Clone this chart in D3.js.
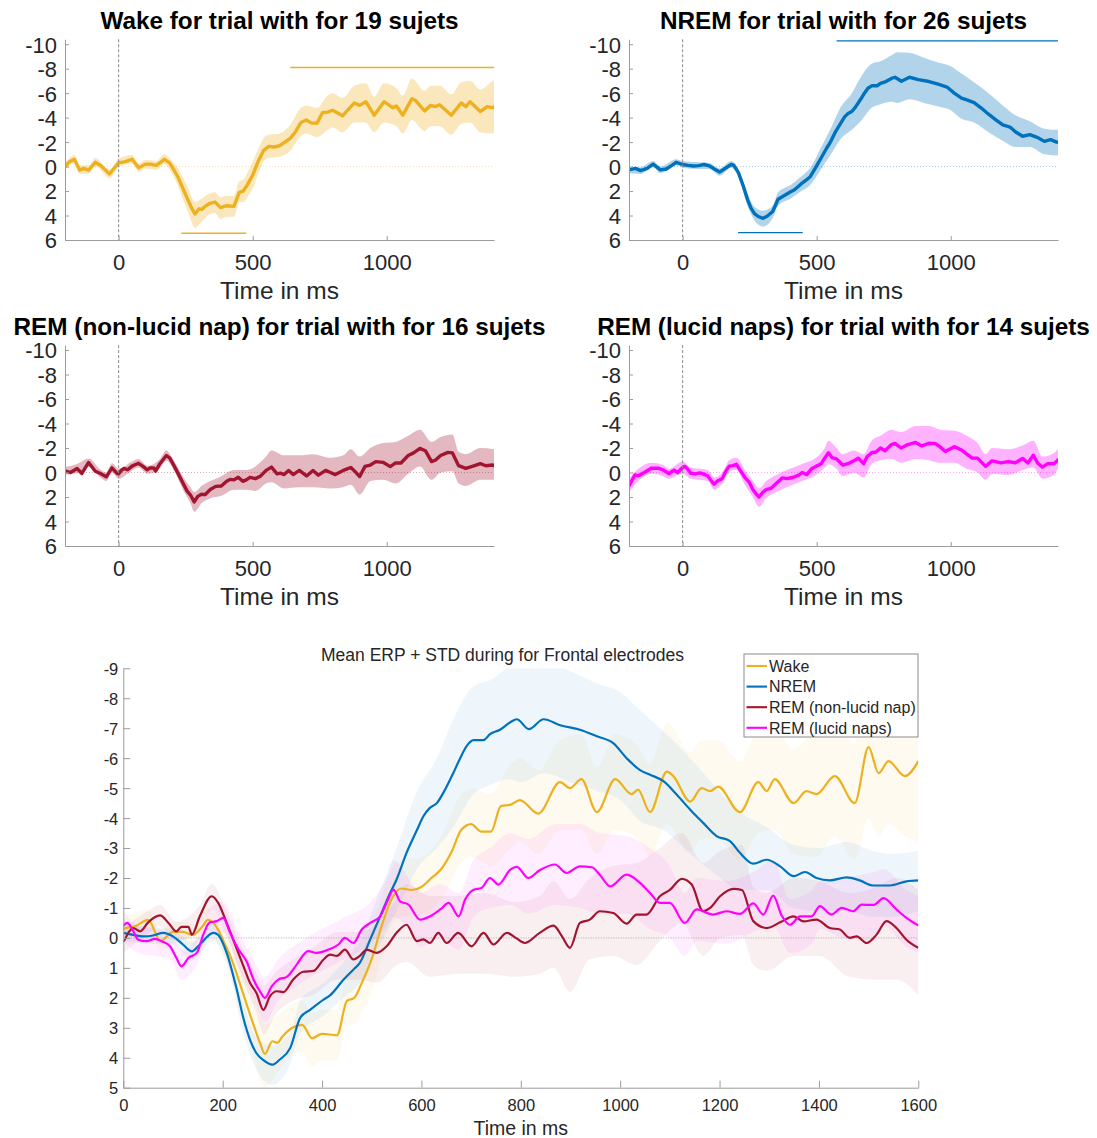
<!DOCTYPE html>
<html>
<head>
<meta charset="utf-8">
<script src="https://cdn.jsdelivr.net/npm/d3@7"></script>
<style>
  body { margin: 0; background: #fff; }
  svg { display: block; font-family: "Liberation Sans", Arial, Helvetica, sans-serif; }
</style>
</head>
<body>
<svg id="fig" width="1097" height="1138"></svg>
<script>
// ---- Condition names, titles and colours ----
const conditions = ["Wake", "NREM", "REM (non-lucid nap)", "REM (lucid naps)"];
const subjects = [19, 26, 16, 14];
const colors = ["#EDB120", "#0072BD", "#A2142F", "#FF00FF"];
const panelTitles = conditions.map((c, i) => `${c} for trial with for ${subjects[i]} sujets`);
const summaryTitle = "Mean ERP + STD during for Frontal electrodes";
const xLabel = "Time in ms";

// ---- Axis ticks ----
const smallXTicks = [0, 500, 1000];
const smallYTicks = [-10, -8, -6, -4, -2, 0, 2, 4, 6];
const bigXTicks = [0, 200, 400, 600, 800, 1000, 1200, 1400, 1600];
const bigYTicks = [-9, -8, -7, -6, -5, -4, -3, -2, -1, 0, 1, 2, 3, 4, 5];

// ---- Mean ERP (µV) : [time ms, amplitude] ----
const wakeMean = [[-200,0.0],[-183,-0.4],[-165,-0.6],[-145,0.3],[-130,0.15],[-112,0.3],[-87,-0.35],[-68,-0.1],[-34,0.6],[-19,0.2],[0,-0.3],[25,-0.4],[50,-0.6],[75,0.1],[100,-0.2],[120,-0.2],[140,-0.1],[160,-0.4],[170,-0.6],[190,-0.3],[200,0.05],[220,0.8],[240,1.8],[260,2.8],[275,3.5],[285,3.87],[300,3.45],[310,3.5],[320,3.3],[340,3.0],[360,2.9],[380,3.35],[400,3.2],[430,3.25],[450,2.1],[465,2.0],[480,1.5],[500,0.7],[520,-0.4],[540,-1.3],[560,-1.65],[580,-1.6],[600,-1.7],[620,-2.0],[640,-2.3],[660,-2.85],[680,-3.6],[700,-3.8],[720,-3.55],[740,-3.55],[760,-4.4],[780,-4.45],[798,-4.6],[835,-4.15],[879,-5.2],[899,-5.0],[922,-5.3],[953,-4.2],[990,-5.3],[1023,-4.8],[1036,-4.95],[1060,-4.2],[1094,-5.55],[1107,-5.4],[1141,-4.55],[1164,-5.0],[1181,-4.9],[1197,-5.05],[1241,-4.2],[1278,-5.2],[1295,-4.9],[1311,-5.3],[1349,-4.5],[1375,-4.9],[1395,-4.8],[1432,-5.4],[1472,-4.5],[1500,-6.37],[1520,-5.5],[1540,-5.9],[1573,-5.4],[1600,-5.9]];

const nremMean = [[-200,0.27],[-176,0.15],[-157,0.33],[-132,0.15],[-110,-0.2],[-83,0.27],[-61,0.2],[-40,-0.1],[-24,-0.35],[0,-0.17],[20,-0.1],[40,-0.05],[60,-0.08],[80,-0.17],[100,-0.05],[120,0.22],[138,0.45],[154,0.22],[181,-0.17],[191,-0.1],[208,0.5],[228,1.7],[242,2.7],[255,3.4],[268,3.85],[282,4.08],[300,4.23],[315,4.06],[336,3.67],[356,2.67],[376,2.4],[403,2.06],[416,1.92],[443,1.4],[463,1.06],[476,0.83],[497,0.05],[517,-0.72],[537,-1.5],[550,-1.95],[570,-2.84],[591,-3.6],[604,-4.06],[617,-4.34],[631,-4.5],[644,-4.84],[664,-5.5],[678,-6.0],[691,-6.4],[705,-6.6],[725,-6.6],[738,-6.8],[758,-6.95],[779,-7.2],[792,-7.3],[816,-6.97],[846,-7.3],[879,-7.1],[919,-6.95],[953,-6.73],[986,-6.5],[1013,-6.0],[1040,-5.6],[1060,-5.45],[1087,-5.23],[1114,-4.78],[1141,-4.28],[1167,-3.84],[1194,-3.4],[1221,-3.23],[1241,-2.84],[1268,-2.48],[1295,-2.61],[1322,-2.39],[1349,-2.06],[1372,-2.2],[1395,-2.0],[1422,-1.92],[1456,-2.02],[1482,-1.92],[1509,-1.75],[1543,-1.75],[1576,-1.89],[1600,-1.92]];

const remMean = [[-200,-0.14],[-180,0.0],[-155,-0.33],[-137,0.08],[-112,-0.82],[-87,-0.1],[-68,0.08],[-46,0.35],[-25,-0.38],[-6,0.08],[0,0.11],[10,-0.17],[20,-0.33],[34,-0.22],[50,-0.52],[74,-0.75],[91,-0.5],[107,-0.22],[117,-0.37],[131,-0.37],[138,-0.11],[154,-0.72],[178,-1.39],[191,-1.17],[208,-0.5],[221,0.05],[242,0.95],[255,1.5],[268,1.84],[282,2.4],[295,1.95],[309,1.78],[322,1.81],[342,1.39],[362,1.13],[383,1.1],[403,0.72],[416,0.56],[430,0.6],[446,0.39],[463,0.72],[476,0.6],[490,0.39],[510,0.5],[530,0.28],[550,-0.17],[570,-0.44],[591,0.11],[604,0.05],[617,0.17],[634,-0.17],[651,0.17],[674,-0.17],[701,0.28],[725,-0.17],[745,0.22],[772,-0.17],[790,0.0],[808,0.17],[838,-0.17],[866,-0.41],[883,-0.05],[899,0.33],[919,-0.5],[939,-0.61],[959,-0.89],[986,-0.83],[1013,-0.48],[1033,-0.78],[1053,-0.78],[1080,-1.39],[1100,-1.6],[1124,-1.97],[1144,-1.78],[1167,-0.89],[1181,-1.0],[1201,-1.39],[1228,-1.64],[1245,-1.6],[1268,-0.56],[1295,-0.33],[1322,-0.52],[1349,-0.72],[1369,-0.55],[1395,-0.61],[1422,-0.33],[1442,-0.28],[1462,0.0],[1476,-0.05],[1496,0.17],[1516,-0.11],[1536,-0.56],[1556,-0.33],[1576,0.06],[1600,0.33]];

const lucidMean = [[-200,1.1],[-178,0.2],[-165,0.27],[-143,0.0],[-117,-0.35],[-91,-0.35],[-71,-0.2],[-52,0.1],[-32,-0.2],[-19,0.0],[0,-0.41],[8,-0.5],[17,-0.33],[30,0.06],[47,0.11],[64,0.03],[77,0.11],[94,0.28],[107,0.67],[117,0.95],[131,0.67],[148,0.5],[161,-0.11],[174,-0.52],[188,-0.56],[201,-0.67],[215,-0.17],[232,0.39],[248,0.78],[262,1.39],[275,1.78],[285,2.0],[299,1.61],[312,1.39],[329,1.3],[349,0.89],[372,0.44],[389,0.5],[413,0.39],[433,0.22],[446,0.0],[463,0.17],[480,-0.28],[497,-0.5],[517,-0.72],[530,-1.17],[544,-1.61],[557,-1.22],[574,-1.11],[597,-0.61],[617,-0.72],[638,-0.95],[655,-1.17],[675,-0.72],[688,-1.28],[705,-1.61],[721,-1.67],[738,-2.0],[755,-1.78],[779,-2.28],[792,-2.37],[815,-2.0],[838,-2.26],[869,-2.45],[892,-2.17],[919,-2.39],[943,-2.36],[959,-2.11],[980,-1.72],[1013,-2.11],[1040,-1.84],[1060,-1.5],[1080,-1.17],[1100,-1.17],[1130,-0.5],[1154,-0.95],[1187,-0.78],[1214,-0.89],[1241,-0.8],[1268,-1.15],[1288,-0.78],[1308,-1.41],[1325,-0.75],[1342,-0.44],[1362,-0.72],[1385,-0.72],[1402,-1.06],[1425,-0.78],[1446,-1.0],[1469,-0.89],[1486,-1.11],[1510,-1.1],[1530,-1.33],[1556,-0.95],[1576,-0.67],[1600,-0.42]];

// ---- Dispersion envelopes : [time ms, upper (negative side), lower] ----
const wakeBand = [[-200,-0.3,0.3],[-165,-0.95,-0.25],[-145,-0.1,0.6],[-112,-0.1,0.6],[-87,-0.7,0.0],[-34,0.25,0.95],[0,-0.65,0.05],[50,-0.95,-0.25],[75,-0.25,0.45],[100,-0.55,0.15],[140,-0.45,0.25],[170,-1.0,-0.2],[200,-0.45,0.6],[220,0.1,1.5],[240,0.9,2.7],[260,1.8,3.8],[285,2.9,5.0],[310,2.6,4.5],[340,2.2,3.9],[360,2.1,3.8],[380,2.5,4.3],[400,2.4,4.1],[430,2.4,4.1],[450,1.2,2.9],[465,1.1,2.9],[480,0.5,2.5],[500,-0.4,1.8],[520,-1.4,0.6],[540,-2.3,-0.4],[560,-2.6,-0.7],[600,-2.7,-0.8],[640,-3.4,-1.3],[680,-4.8,-2.5],[700,-5.0,-2.7],[740,-4.8,-2.4],[780,-5.8,-3.0],[798,-6.0,-3.2],[835,-5.6,-2.8],[879,-6.6,-3.6],[922,-6.8,-3.6],[953,-5.7,-2.8],[990,-6.8,-3.6],[1036,-6.4,-3.3],[1060,-5.8,-2.7],[1094,-7.2,-3.8],[1141,-6.2,-2.9],[1164,-6.6,-3.3],[1197,-6.6,-3.3],[1241,-5.9,-2.6],[1278,-6.9,-3.5],[1311,-7.0,-3.6],[1349,-6.3,-2.8],[1395,-7.0,-2.7],[1432,-7.2,-3.4],[1472,-6.5,-2.6],[1500,-8.5,-4.0],[1520,-7.4,-3.4],[1540,-7.8,-3.8],[1573,-7.2,-3.4],[1600,-7.6,-3.2]];

const nremBand = [[-200,0.0,0.55],[-157,0.05,0.6],[-110,-0.45,0.05],[-83,0.0,0.55],[-24,-0.6,-0.1],[0,-0.45,0.1],[60,-0.35,0.2],[100,-0.3,0.2],[138,0.15,0.75],[181,-0.45,0.1],[208,0.2,0.8],[242,2.2,3.2],[268,3.3,4.4],[300,3.6,4.9],[336,3.2,4.2],[356,2.1,3.2],[403,1.5,2.6],[443,0.8,2.0],[476,0.1,1.5],[517,-1.6,0.2],[550,-3.0,-0.9],[591,-4.9,-2.3],[631,-6.0,-3.0],[664,-7.3,-3.7],[705,-8.4,-4.8],[738,-8.6,-5.1],[779,-9.1,-5.3],[800,-9.35,-5.2],[846,-9.3,-5.5],[900,-8.9,-5.2],[953,-8.5,-4.9],[1000,-8.2,-4.6],[1040,-7.6,-3.9],[1087,-6.9,-3.6],[1141,-6.0,-2.8],[1194,-5.0,-2.1],[1241,-4.2,-1.6],[1295,-3.7,-1.6],[1349,-3.1,-1.0],[1400,-3.0,-0.9],[1456,-3.2,-0.9],[1509,-2.9,-0.7],[1543,-2.8,-0.7],[1600,-2.9,-0.9]];

const remBand = [[-200,-0.45,0.2],[-155,-0.7,0.05],[-112,-1.15,-0.45],[-68,-0.25,0.4],[-46,0.0,0.7],[-25,-0.75,0.0],[0,-0.3,0.5],[50,-0.9,-0.15],[74,-1.1,-0.4],[107,-0.55,0.1],[131,-0.7,0.0],[154,-1.1,-0.35],[178,-1.8,-0.95],[208,-0.9,-0.1],[242,0.4,1.5],[268,1.2,2.5],[282,1.6,3.2],[309,1.1,2.5],[342,0.7,2.1],[383,0.3,1.9],[430,-0.2,1.4],[476,-0.2,1.4],[510,-0.5,1.5],[550,-1.3,0.9],[570,-1.8,0.8],[617,-1.4,1.3],[674,-1.4,1.2],[725,-1.5,1.2],[790,-1.2,1.3],[838,-1.4,1.2],[866,-1.9,1.0],[899,-1.3,1.8],[939,-2.0,0.7],[986,-2.4,0.6],[1033,-2.5,0.9],[1080,-3.0,0.1],[1124,-3.5,-0.5],[1167,-2.5,0.6],[1201,-2.9,0.0],[1245,-3.1,-0.1],[1268,-1.7,0.9],[1295,-1.5,1.1],[1349,-2.0,0.6],[1400,-1.9,0.6],[1462,-1.5,1.3],[1516,-1.7,1.4],[1556,-2.0,1.4],[1600,-1.6,1.9]];

const lucidBand = [[-200,0.5,1.6],[-165,-0.3,0.7],[-117,-0.8,0.1],[-71,-0.6,0.3],[-52,-0.3,0.5],[0,-0.9,0.1],[30,-0.4,0.5],[94,-0.2,0.7],[117,0.4,1.4],[148,0.0,0.9],[174,-1.0,-0.1],[201,-1.2,-0.2],[232,-0.2,1.0],[262,0.7,2.0],[285,1.3,2.8],[312,0.7,2.1],[349,0.2,1.6],[389,-0.2,1.2],[446,-0.7,0.7],[497,-1.2,0.2],[530,-2.0,-0.4],[544,-2.6,-0.7],[574,-2.0,-0.3],[597,-1.5,0.3],[638,-1.8,0.0],[675,-1.5,0.4],[705,-2.6,-0.7],[738,-3.0,-1.0],[779,-3.5,-1.1],[815,-3.3,-0.8],[869,-3.8,-1.1],[919,-3.8,-1.0],[959,-3.5,-0.8],[1013,-3.4,-0.8],[1060,-3.0,-0.3],[1100,-2.4,0.0],[1130,-1.5,0.6],[1154,-2.0,0.1],[1214,-1.9,0.2],[1268,-2.2,-0.2],[1308,-2.6,-0.4],[1342,-1.3,0.5],[1385,-1.6,0.2],[1402,-1.9,-0.3],[1446,-2.0,0.0],[1510,-2.2,0.1],[1530,-2.3,-0.4],[1576,-1.6,0.3],[1600,-1.4,0.5]];

// ---- Significant clusters : [start ms, end ms, marker level] ----
const wakeSig = [[234, 476, 5.45], [640, 1400, -8.1]];
const nremSig = [[207, 448, 5.4], [574, 1400, -10.27]];
const remSig = [];
const lucidSig = [];

const means = [wakeMean, nremMean, remMean, lucidMean];
const bands = [wakeBand, nremBand, remBand, lucidBand];
const sigs = [wakeSig, nremSig, remSig, lucidSig];

// ---- Drawing ----
const svg = d3.select("#fig");
const AXIS = "#9c9c9c", INK = "#262626";
const defs = svg.append("defs");

// pixel frames of the four small axes
const frames = [
  { x0: 65,  x1: 494,  y0: 39.3,  y1: 240, titleY: 29 },
  { x0: 629, x1: 1058, y0: 39.3,  y1: 240, titleY: 29 },
  { x0: 65,  x1: 494,  y0: 345.1, y1: 546, titleY: 334.5 },
  { x0: 629, x1: 1058, y0: 345.1, y1: 546, titleY: 334.5 }
];

function styleAxis(g, fontSize) {
  g.select(".domain").attr("stroke", AXIS).attr("stroke-width", 1);
  g.selectAll(".tick line").attr("stroke", AXIS);
  g.selectAll(".tick text").attr("fill", INK).attr("font-size", fontSize);
}

frames.forEach((f, i) => {
  const color = colors[i];
  const x = d3.scaleLinear().domain([-200, 1400]).range([f.x0, f.x1]);
  const y = d3.scaleLinear().domain([-10.4, 6]).range([f.y0, f.y1]);
  const g = svg.append("g");

  defs.append("clipPath").attr("id", "clip" + i)
    .append("rect").attr("x", f.x0).attr("y", f.y0 - 4)
    .attr("width", f.x1 - f.x0).attr("height", f.y1 - f.y0 + 4);
  const plot = g.append("g").attr("clip-path", `url(#clip${i})`);

  plot.append("path").datum(bands[i])
    .attr("d", d3.area().x(d => x(d[0])).y0(d => y(d[1])).y1(d => y(d[2])).curve(d3.curveMonotoneX))
    .attr("fill", color).attr("fill-opacity", 0.3);

  plot.append("line")
    .attr("x1", x(-200)).attr("x2", x(1400)).attr("y1", y(0)).attr("y2", y(0))
    .attr("stroke", color).attr("stroke-opacity", 0.45).attr("stroke-width", 0.8)
    .attr("stroke-dasharray", "1,2");

  g.append("line")
    .attr("x1", x(0)).attr("x2", x(0)).attr("y1", f.y0).attr("y2", f.y1)
    .attr("stroke", "#8a8a8a").attr("stroke-width", 1).attr("stroke-dasharray", "3,2");

  plot.append("path").datum(means[i])
    .attr("d", d3.line().x(d => x(d[0])).y(d => y(d[1])))
    .attr("fill", "none").attr("stroke", color).attr("stroke-width", 3.4)
    .attr("stroke-linejoin", "round").attr("stroke-linecap", "round");

  sigs[i].forEach(s => {
    g.append("line")
      .attr("x1", x(s[0])).attr("x2", x(s[1])).attr("y1", y(s[2])).attr("y2", y(s[2]))
      .attr("stroke", color).attr("stroke-width", 1.4);
  });

  const ax = g.append("g").attr("transform", `translate(0,${f.y1})`)
    .call(d3.axisBottom(x).tickValues(smallXTicks).tickSizeInner(-4).tickSizeOuter(0).tickFormat(d => String(d)));
  styleAxis(ax, 22);
  ax.selectAll(".tick text").attr("y", 30).attr("dy", null);

  const ay = g.append("g").attr("transform", `translate(${f.x0},0)`)
    .call(d3.axisLeft(y).tickValues(smallYTicks).tickSizeInner(-4).tickSizeOuter(0).tickPadding(8).tickFormat(d => String(d)));
  styleAxis(ay, 22);
  ay.selectAll(".tick text").attr("dy", "0.36em");

  g.append("text").attr("x", (f.x0 + f.x1) / 2).attr("y", f.y1 + 59)
    .attr("text-anchor", "middle").attr("font-size", 24.5).attr("fill", INK).text(xLabel);

  g.append("text").attr("x", (f.x0 + f.x1) / 2).attr("y", f.titleY)
    .attr("text-anchor", "middle").attr("font-size", 24.3).attr("font-weight", "bold")
    .attr("fill", "#000").text(panelTitles[i]);
});

// ---- Summary panel with all conditions ----
const B = { x0: 123.3, x1: 918.3, y0: 668.3, y1: 1087.7 };
const bx = d3.scaleLinear().domain([0, 1600]).range([B.x0, B.x1]);
const by = d3.scaleLinear().domain([-9, 5]).range([B.y0, B.y1]);
const bg = svg.append("g");
defs.append("clipPath").attr("id", "clipBig")
  .append("rect").attr("x", B.x0).attr("y", B.y0).attr("width", B.x1 - B.x0).attr("height", B.y1 - B.y0);
const bplot = bg.append("g").attr("clip-path", "url(#clipBig)");

bands.forEach((band, i) => {
  bplot.append("path").datum(band.filter(d => d[0] >= -20))
    .attr("d", d3.area().x(d => bx(d[0])).y0(d => by(d[1])).y1(d => by(d[2])).curve(d3.curveMonotoneX))
    .attr("fill", colors[i]).attr("fill-opacity", 0.065);
});

bplot.append("line")
  .attr("x1", bx(0)).attr("x2", bx(1600)).attr("y1", by(0)).attr("y2", by(0))
  .attr("stroke", "#999").attr("stroke-width", 0.8).attr("stroke-dasharray", "1,1.5");

means.forEach((m, i) => {
  bplot.append("path").datum(m.filter(d => d[0] >= -20))
    .attr("d", d3.line().x(d => bx(d[0])).y(d => by(d[1])).curve(d3.curveMonotoneX))
    .attr("fill", "none").attr("stroke", colors[i]).attr("stroke-width", 2.2)
    .attr("stroke-linejoin", "round");
});

const bax = bg.append("g").attr("transform", `translate(0,${B.y1})`)
  .call(d3.axisBottom(bx).tickValues(bigXTicks).tickSizeInner(-7).tickSizeOuter(0).tickFormat(d => String(d)));
styleAxis(bax, 16.5);
bax.selectAll(".tick text").attr("y", 23).attr("dy", null);

const bay = bg.append("g").attr("transform", `translate(${B.x0},0)`)
  .call(d3.axisLeft(by).tickValues(bigYTicks).tickSizeInner(-7).tickSizeOuter(0).tickPadding(5).tickFormat(d => String(d)));
styleAxis(bay, 16.5);
bay.selectAll(".tick text").attr("dy", "0.36em");

bg.append("text").attr("x", (B.x0 + B.x1) / 2).attr("y", 1135)
  .attr("text-anchor", "middle").attr("font-size", 19.5).attr("fill", INK).text(xLabel);

bg.append("text").attr("x", 502.5).attr("y", 660.5)
  .attr("text-anchor", "middle").attr("font-size", 17.5).attr("fill", INK).text(summaryTitle);

// legend
const L = { x: 744, y: 654, w: 174, h: 83 };
const leg = bg.append("g");
leg.append("rect").attr("x", L.x).attr("y", L.y).attr("width", L.w).attr("height", L.h)
  .attr("fill", "#fff").attr("stroke", "#8c8c8c").attr("stroke-width", 1);
conditions.forEach((c, i) => {
  const cy = L.y + 12 + i * 20.6;
  leg.append("line").attr("x1", L.x + 2.5).attr("x2", L.x + 23).attr("y1", cy).attr("y2", cy)
    .attr("stroke", colors[i]).attr("stroke-width", 2.1);
  leg.append("text").attr("x", L.x + 25).attr("y", cy + 5.7)
    .attr("font-size", 16).attr("fill", INK).text(c);
});
</script>
</body>
</html>
